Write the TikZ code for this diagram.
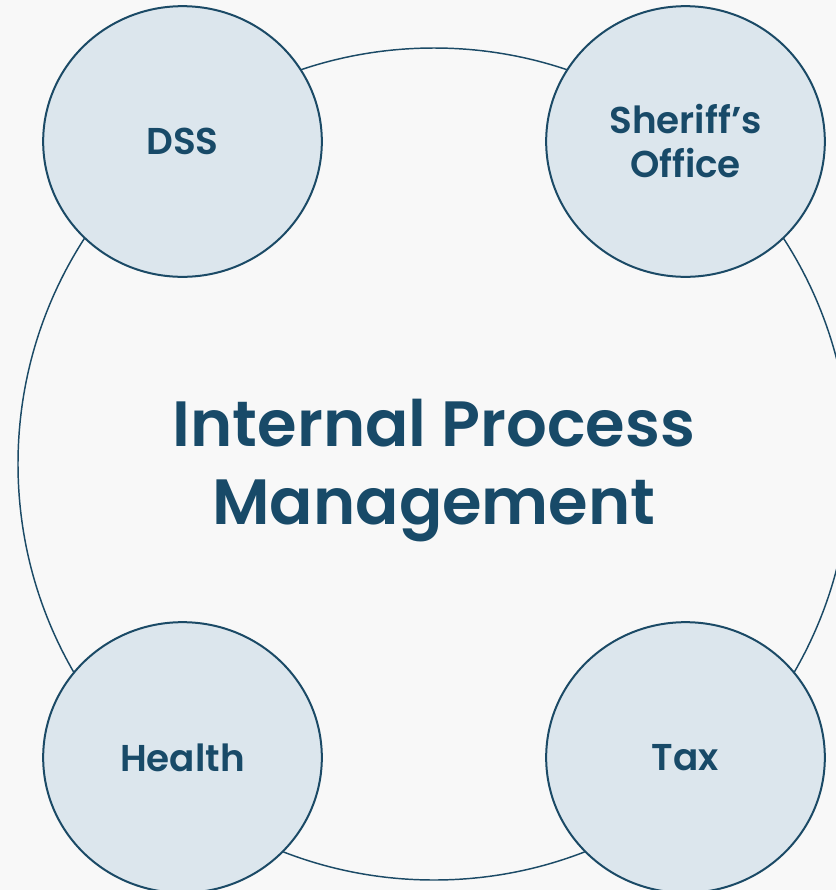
\documentclass[tikz,border=0pt]{standalone}
\usepackage{fontspec}
\setmainfont{Poppins}[BoldFont={Poppins SemiBold}]
\usetikzlibrary{shapes.geometric}

\definecolor{ipmbg}{HTML}{F8F8F8}
\definecolor{ipmfill}{HTML}{DCE6ED}
\definecolor{ipmline}{HTML}{1B4A66}
\definecolor{ipmtext}{HTML}{184A68}

\begin{document}
\begin{tikzpicture}[x=0.75pt, y=-0.75pt, every node/.style={text=ipmtext, align=center, inner sep=0pt},
    agency/.style={draw=ipmline, line width=1.5pt, fill=ipmfill, ellipse, minimum width=209pt, minimum height=203pt, font=\bfseries\fontsize{28}{33}\selectfont}]
  \fill[ipmbg] (0,0) rectangle (836,890);
  \useasboundingbox (0,0) rectangle (836,890);
  \node[draw=ipmline, line width=1.1pt, circle, minimum size=624pt] (ipm) at (434,464) {};
  \node[font=\bfseries\fontsize{48}{58}\selectfont] (title) at ([yshift=-5pt]ipm.center) {Internal Process\\Management};
  \node[agency] (dss) at (182.5,141.5) {DSS};
  \node[agency] (sheriff) at (685.5,141.5) {Sheriff’s\\Office};
  \node[agency] (health) at (182.5,757.5) {Health};
  \node[agency] (tax) at (685.5,757.5) {Tax};
\end{tikzpicture}
\end{document}
